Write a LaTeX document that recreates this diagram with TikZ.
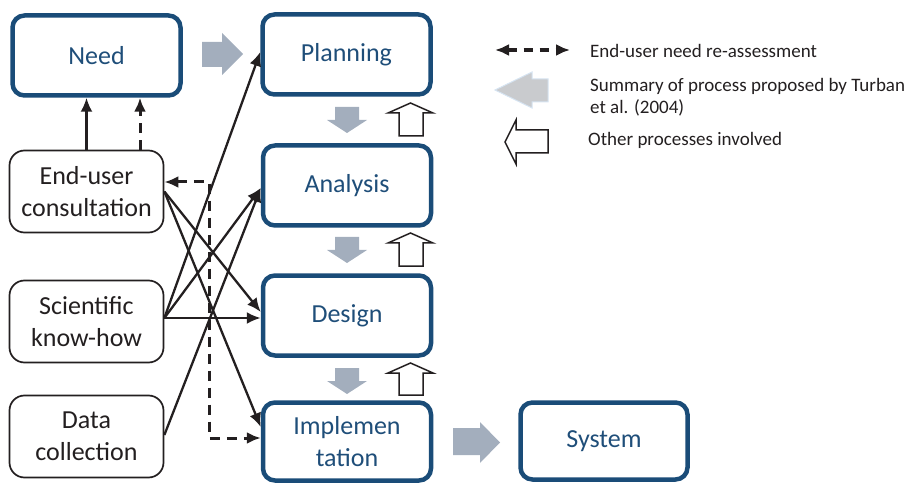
\documentclass[tikz,border=0pt]{standalone}
\usepackage{fontspec}
\setmainfont{Carlito}
\usetikzlibrary{arrows.meta,calc}
\definecolor{boxblue}{HTML}{1A4C78}
\definecolor{txtblue}{HTML}{1F4E79}
\definecolor{garrow}{HTML}{A3AEBD}
\definecolor{lgarrow}{HTML}{C9CBCE}
\definecolor{lgedge}{HTML}{D6E4F2}
\definecolor{ink}{HTML}{231F20}
\begin{document}
\begin{tikzpicture}[x=1pt,y=-1pt,
 bluebox/.style={draw=boxblue, line width=4.5pt, rounded corners=12pt, minimum width=168pt, minimum height=80pt, text=txtblue, font=\fontsize{26}{32}\selectfont, align=center, inner sep=0pt},
 inbox/.style={draw=ink, line width=1.7pt, rounded corners=15pt, minimum width=154pt, minimum height=82pt, text=ink, font=\fontsize{26}{32}\selectfont, align=center, inner sep=0pt},
 conn/.style={draw=ink, line width=2.3pt, -{Latex[length=14pt,width=12pt]}},
 dconn/.style={conn, line width=3pt, dash pattern=on 10pt off 7pt},
 bothtips/.style={{Latex[length=14pt,width=12pt]}-{Latex[length=14pt,width=12pt]}},
 grayarrow/.style={fill=garrow},
 whitearrow/.style={draw=ink, fill=white, line width=1.5pt, line join=miter},
 legtext/.style={anchor=base west, font=\fontsize{19}{23}\selectfont, text=ink, inner sep=0pt}]

\useasboundingbox (0,0) rectangle (914,484);

% process boxes
\node[bluebox] (need) at (96.5,55.5) {Need};
\node[bluebox] (plan) at (346.5,54.5) {Planning};
\node[bluebox] (ana) at (347,185.5) {Analysis};
\node[bluebox] (design) at (347,315.5) {Design};
\node[bluebox, minimum height=78pt] (impl) at (347,441.5) {Implemen\\tation};
\node[bluebox, minimum width=167pt, minimum height=77pt] (sys) at (604,441) {System};

% input boxes
\node[inbox] (eu) at (86.5,191.5) {End-user\\consultation};
\node[inbox] (sci) at (86.5,321.5) {Scientific\\know-how};
\node[inbox] (data) at (86.5,436.5) {Data\\collection};

% gray block arrows
\fill[grayarrow] (202,42) -- (222,42) -- (222,33) -- (243,54) -- (222,75) -- (222,67) -- (202,67) -- cycle;
\fill[grayarrow] (453,428) -- (480,428) -- (480,422) -- (500,442.5) -- (480,463) -- (480,455) -- (453,455) -- cycle;
\foreach \t in {107,237,368}{
  \fill[grayarrow] (335,\t) -- (359,\t) -- (359,\t+13) -- (367,\t+13) -- (347,\t+26) -- (327,\t+13) -- (335,\t+13) -- cycle;
}
% white up arrows
\foreach \t/\b in {103/136,233/266,363/395}{
  \draw[whitearrow] (399,\b) -- (399,\t+10) -- (388,\t+10) -- (410.5,\t) -- (433,\t+10) -- (423,\t+10) -- (423,\b) -- cycle;
}

% connectors
\draw[conn] (eu.north) -- (eu.north |- need.south);
\draw[dconn] ($(eu.north)+(53.5,0)$) -- ($(eu.north |- need.south)+(53.5,0)$);
\draw[conn] (eu.east) -- ($(design.west)+(0,-3.5)$);
\draw[conn] (eu.east) -- ($(impl.west)+(0,-14.5)$);
\coordinate (sciR) at ($(sci.east)+(0,-3.5)$);
\draw[conn] (sciR) -- ($(plan.west)+(0,-2.5)$);
\draw[conn] (sciR) -- ($(ana.west)+(0,2.5)$);
\draw[conn] (sciR) -- (sciR -| design.west);
\draw[conn] ($(data.east)+(0,-1.5)$) -- ($(ana.west)+(0,2.5)$);
\draw[dconn, bothtips] ($(eu.east)+(0,-9.5)$) -- ++(45,0) |- ($(impl.west)+(0,-3.5)$);

% legend
\coordinate (la) at (495,50);
\coordinate (lb) at (570,50);
\draw[dconn, line width=3.2pt, bothtips, dash pattern=on 9pt off 7pt] (la) -- (lb);
\node[legtext] (leg1) at (590,58) {End-user need re-assessment};
\filldraw[fill=lgarrow, draw=lgedge, line width=1pt] (548,79) -- (532,79) -- (532,72) -- (495,90) -- (532,108) -- (532,102) -- (548,102) -- cycle;
\node[legtext] (leg2) at (590,92) {Summary of process proposed by Turban};
\node[legtext] (leg2b) at (590,114) {et al. (2004)};
\draw[whitearrow] (548,130) -- (516,130) -- (516,120) -- (505,142) -- (516,164) -- (516,153) -- (548,153) -- cycle;
\node[legtext] (leg3) at (588,146) {Other processes involved};
\end{tikzpicture}
\end{document}
